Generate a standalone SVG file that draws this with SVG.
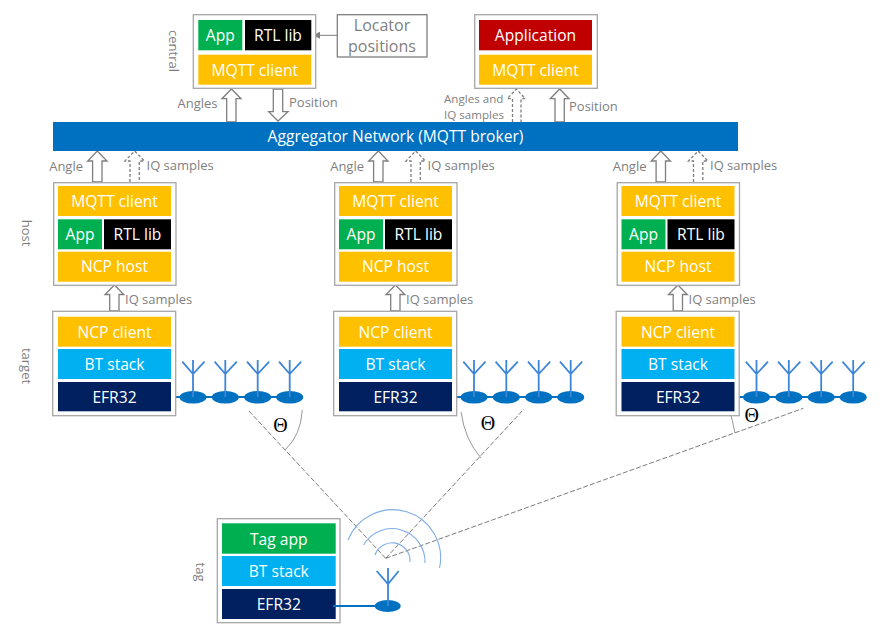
<svg xmlns="http://www.w3.org/2000/svg" width="890" height="626" viewBox="0 0 890 626">
<style>
text{font-family:"Open Sans","Noto Sans","Liberation Sans",sans-serif}
.frame{fill:#fff;stroke:#a6a6a6;stroke-width:1.3}
.w{fill:#fff;font-size:15.6px;text-anchor:middle}
.y{fill:#ffc000}.g{fill:#00b050}.k{fill:#000}.b{fill:#00b0f0}.n{fill:#002060}.r{fill:#c00000}
.lab{fill:#7f7f7f;font-size:13px}
.side{fill:#7f7f7f;font-size:13px;text-anchor:middle}
.arr{fill:#fff;stroke:#7f7f7f;stroke-width:1.3}
.dash{fill:#fff;stroke:#7f7f7f;stroke-width:1.3;stroke-dasharray:3 2}
.sight{fill:none;stroke:#595959;stroke-width:.8;stroke-dasharray:5 2}
.arc{fill:none;stroke:#8c8c8c;stroke-width:.9}
.wave{fill:none;stroke:#7eaee6;stroke-width:1.1}
.ant{fill:none;stroke:#3d85d8;stroke-width:1.8}
.wire{fill:none;stroke:#0070c0;stroke-width:1.8}
.dish{fill:#0070c0}
.theta{fill:#000;font-family:"Liberation Serif",serif;font-size:20px;text-anchor:middle}
</style>
<defs>
<marker id="tip" markerWidth="8" markerHeight="8" refX="7" refY="3.5" orient="auto" markerUnits="userSpaceOnUse"><path d="M0 0L7 3.5L0 7Z" fill="#7f7f7f"/></marker>
<g id="array">
<path class="wire" d="M171 397H290"/>
<g id="a1"><ellipse class="dish" cx="193" cy="397.3" rx="13.5" ry="6.3"/><path class="ant" d="M193 397V360M182.3 361.7L193 374L204.5 361.7"/></g>
<g><ellipse class="dish" cx="225.3" cy="397.3" rx="13.5" ry="6.3"/><path class="ant" d="M225.3 397V360M214.6 361.7L225.3 374L236.8 361.7"/></g>
<g><ellipse class="dish" cx="257.7" cy="397.3" rx="13.5" ry="6.3"/><path class="ant" d="M257.7 397V360M247 361.7L257.7 374L269.2 361.7"/></g>
<g><ellipse class="dish" cx="289.7" cy="397.3" rx="13.5" ry="6.3"/><path class="ant" d="M289.7 397V360M279 361.7L289.7 374L301.2 361.7"/></g>
</g>
<g id="hostStack">
<rect class="frame" x="53.7" y="182.7" width="122.3" height="102.6"/>
<rect class="y" x="58" y="186" width="113" height="30"/><text class="w" x="114.5" y="207">MQTT client</text>
<rect class="g" x="58" y="219.3" width="44" height="30"/><text class="w" x="80" y="240">App</text>
<rect class="k" x="104" y="219.3" width="67" height="30"/><text class="w" x="137.5" y="240">RTL lib</text>
<rect class="y" x="58" y="251.7" width="113" height="30"/><text class="w" x="114.5" y="272">NCP host</text>
</g>
<g id="targetStack">
<rect class="frame" x="52.7" y="311.3" width="123" height="104.4"/>
<rect class="y" x="58" y="316.7" width="113" height="30"/><text class="w" x="114.5" y="337.5">NCP client</text>
<rect class="b" x="58" y="349" width="113" height="30"/><text class="w" x="114.5" y="370">BT stack</text>
<rect class="n" x="58" y="382" width="113" height="29.3"/><text class="w" x="114.5" y="402.5">EFR32</text>
</g>
<g id="colArrows">
<path class="arr" d="M92.6 182V161H87.7L97.3 151L107 161H102V182Z"/>
<path class="dash" d="M130 182V161H125L134.7 151L144.4 161H139.3V182"/>
<path class="arr" d="M109.7 311V294.5H105L114.4 285L123.8 294.5H119V311Z"/>
</g>
<g id="colLabels">
<text class="lab" x="83" y="170.5" text-anchor="end">Angle</text>
<text class="lab" x="146.5" y="170">IQ samples</text>
<text class="lab" x="125" y="304">IQ samples</text>
</g>
</defs>

<g id="connectors">
<path class="arr" d="M226.7 122V98.7H222L231.4 89L241 98.7H236V122Z"/>
<path class="arr" d="M273.3 89V111.7H268.7L278 121L288 111.7H282.7V89Z"/>
<path class="dash" d="M512.5 122V98.7H507.3L516.3 89L525.3 98.7H521V122"/>
<path class="arr" d="M555 122V98.7H550.3L559.7 89L569 98.7H564.3V122Z"/>
<path d="M337 35.3H313" fill="none" stroke="#7f7f7f" stroke-width="1" marker-end="url(#tip)"/>
<use href="#colArrows"/>
<use href="#colArrows" x="281"/>
<use href="#colArrows" x="563.5"/>
<path class="sight" d="M385.7 558.3L248 410"/>
<path class="sight" d="M385.7 558.3L524 409"/>
<path class="sight" d="M385.7 558.3L803.3 408.3"/>
<path class="arc" d="M302.3 410Q301 435 285 450"/>
<path class="arc" d="M461 412Q465 440 481 458"/>
<path class="arc" d="M731 415L735 433"/>
<path class="wave" d="M348 540A48 48 0 0 1 439.5 568"/>
<path class="wave" d="M363.5 545A33 33 0 0 1 425 563"/>
<path class="wave" d="M375 555A18 18 0 0 1 410 562"/>
</g>

<g id="central">
<rect class="frame" x="193.3" y="14.7" width="122.4" height="73.6"/>
<rect class="g" x="198.3" y="20" width="44" height="30.3"/><text class="w" x="220.3" y="41">App</text>
<rect class="k" x="245" y="20" width="66.3" height="30.3"/><text class="w" x="278" y="41">RTL lib</text>
<rect class="y" x="198.3" y="54.7" width="113" height="30"/><text class="w" x="254.8" y="75.5">MQTT client</text>
<text class="side" transform="translate(169,51) rotate(90)">central</text>
</g>
<g id="locator">
<rect x="337.3" y="14.7" width="89.7" height="42.3" fill="#fff" stroke="#7f7f7f" stroke-width="1.3"/>
<text x="382" y="31" fill="#7f7f7f" font-size="16" text-anchor="middle">Locator</text>
<text x="382" y="52" fill="#7f7f7f" font-size="16" text-anchor="middle">positions</text>
</g>
<g id="application">
<rect class="frame" x="474.7" y="14.7" width="122.6" height="73.6"/>
<rect class="r" x="479" y="20" width="113" height="30.3"/><text class="w" x="535.5" y="41">Application</text>
<rect class="y" x="479" y="54.7" width="113" height="30"/><text class="w" x="535.5" y="75.5">MQTT client</text>
</g>
<g id="broker">
<rect x="53" y="122" width="685" height="29" fill="#0070c0"/>
<text class="w" x="395.5" y="142">Aggregator Network (MQTT broker)</text>
</g>
<g id="labels">
<text class="lab" x="217.5" y="108" text-anchor="end">Angles</text>
<text class="lab" x="289" y="107">Position</text>
<text class="lab" x="444" y="103" style="font-size:11.6px">Angles and</text>
<text class="lab" x="444" y="119" style="font-size:11.6px">IQ samples</text>
<text class="lab" x="569" y="111">Position</text>
<use href="#colLabels"/>
<use href="#colLabels" x="281"/>
<use href="#colLabels" x="563.5"/>
<text class="side" transform="translate(22,233) rotate(90)">host</text>
<text class="side" transform="translate(22,366) rotate(90)">target</text>
<text class="side" transform="translate(196,572) rotate(90)">tag</text>
</g>
<g id="host1"><use href="#hostStack"/></g>
<g id="host2"><use href="#hostStack" x="281"/></g>
<g id="host3"><use href="#hostStack" x="563.5"/></g>
<g id="array1"><use href="#array"/></g>
<g id="array2"><use href="#array" x="281"/></g>
<g id="array3"><use href="#array" x="563.5"/></g>
<g id="target1"><use href="#targetStack"/></g>
<g id="target2"><use href="#targetStack" x="281"/></g>
<g id="target3"><use href="#targetStack" x="563.5"/></g>
<g id="tag">
<rect class="frame" x="217.3" y="518.7" width="122.7" height="104"/>
<rect class="g" x="222" y="523.3" width="113.7" height="30.4"/><text class="w" x="278.8" y="544.5">Tag app</text>
<rect class="b" x="222" y="556" width="113.7" height="30"/><text class="w" x="278.8" y="577">BT stack</text>
<rect class="n" x="222" y="589" width="113.7" height="30"/><text class="w" x="278.8" y="610">EFR32</text>
<path class="wire" d="M333 606H376"/>
<ellipse class="dish" cx="387.7" cy="606" rx="13" ry="6"/>
<path class="ant" d="M388 606V568M376.7 571L388 584L398.7 571"/>
</g>
<g id="angles">
<text class="theta" x="280.5" y="432">Θ</text>
<text class="theta" x="488" y="430">Θ</text>
<text class="theta" x="751.7" y="422">Θ</text>
</g>
</svg>
